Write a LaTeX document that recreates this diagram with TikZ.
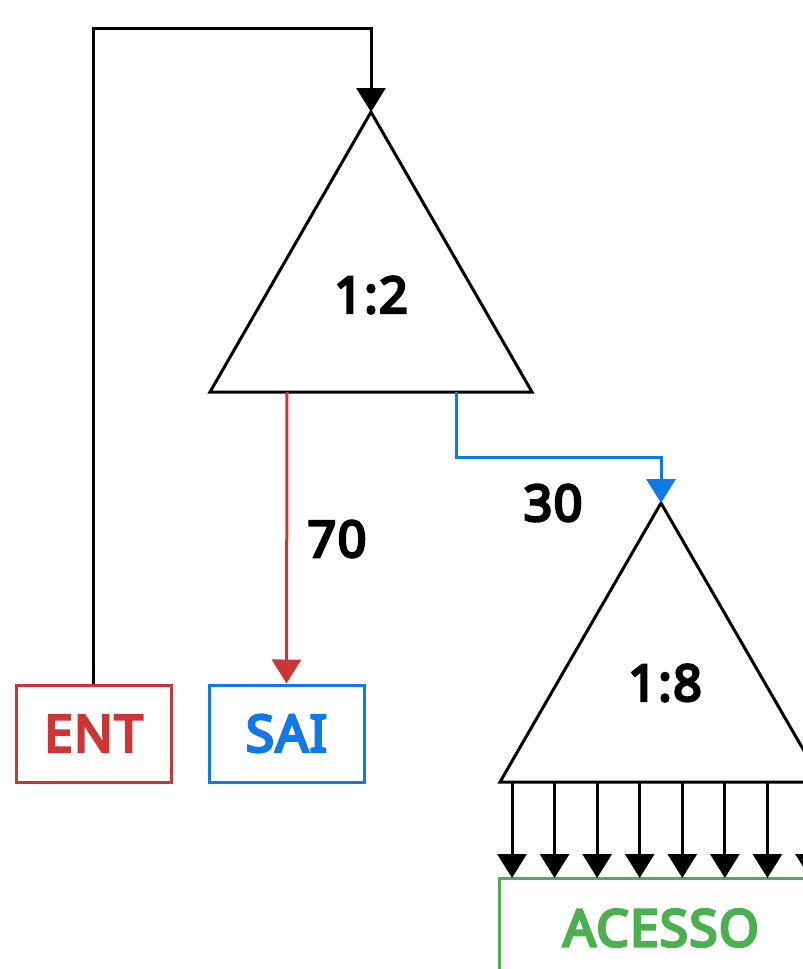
\documentclass[tikz,border=0pt]{standalone}
\usepackage{fontspec}
\setmainfont{Noto Sans}
\newfontfamily\hvy{Noto Sans}[FakeBold=5.5,LetterSpace=3]
\usetikzlibrary{arrows.meta}
\definecolor{cred}{HTML}{CC3535}
\definecolor{cblue}{HTML}{1079E8}
\definecolor{cgreen}{HTML}{4CAF50}
\tikzset{
  conn/.style={line width=3pt,-{Triangle[length=24pt,width=29pt]}},
  tri/.style={draw=black,line width=3pt,line join=miter},
  lbl/.style={font=\fontsize{50}{58}\hvy,inner sep=0pt},
  box/.style={draw,line width=3pt,minimum width=155pt,minimum height=97pt,inner sep=0pt,font=\fontsize{51}{58}\hvy}
}
\begin{document}
\begin{tikzpicture}[x=1pt,y=-1pt]
\useasboundingbox (0,0) rectangle (803,969);
\clip (0,0) rectangle (803,969);
% triangle 1
\coordinate (t1a) at (371,112);
\coordinate (t1l) at (210,392);
\coordinate (t1r) at (532,392);
\draw[tri] (t1a) -- (t1l) -- (t1r) -- cycle;
\node[lbl] (r12) at (371,295) {1:2};
% triangle 2
\coordinate (t2a) at (661,503);
\coordinate (t2l) at (500,782);
\coordinate (t2r) at (822,782);
\draw[tri] (t2a) -- (t2l) -- (t2r) -- cycle;
\node[lbl] (r18) at (665,683) {1:8};
% boxes
\node[box,draw=cred,text=cred] (ent) at (93.5,733.5) {ENT};
\node[box,draw=cblue,text=cblue] (sai) at (286.5,733.5) {SAI};
\draw[line width=3pt,draw=cgreen] (499,878) rectangle (840,1000);
\node[font=\fontsize{51}{58}\hvy,text=cgreen,inner sep=0pt] (acc) at (661,928) {ACESSO};
% feedback loop
\coordinate (c1) at (93.5,28);
\coordinate (c2) at (371,28);
\draw[conn,black] (ent.north) -- (c1) -- (c2) -- (t1a);
% red to SAI
\coordinate (o1) at (287,392);
\draw[conn,cred] (o1) -- (sai.north);
\node[lbl] (l70) at (337,539) {70};
% blue to triangle 2
\coordinate (o2) at (456,392);
\coordinate (b1) at (456,457);
\coordinate (b2) at (661,457);
\draw[conn,cblue] (o2) -- (b1) -- (b2) -- (t2a);
\node[lbl] (l30) at (553,503) {30};
% outputs
\foreach \i in {0,...,7}{
  \coordinate (s\i) at ({512+\i*42.57},782);
  \coordinate (e\i) at ({512+\i*42.57},878);
  \draw[conn,black] (s\i) -- (e\i);
}
\end{tikzpicture}
\end{document}
